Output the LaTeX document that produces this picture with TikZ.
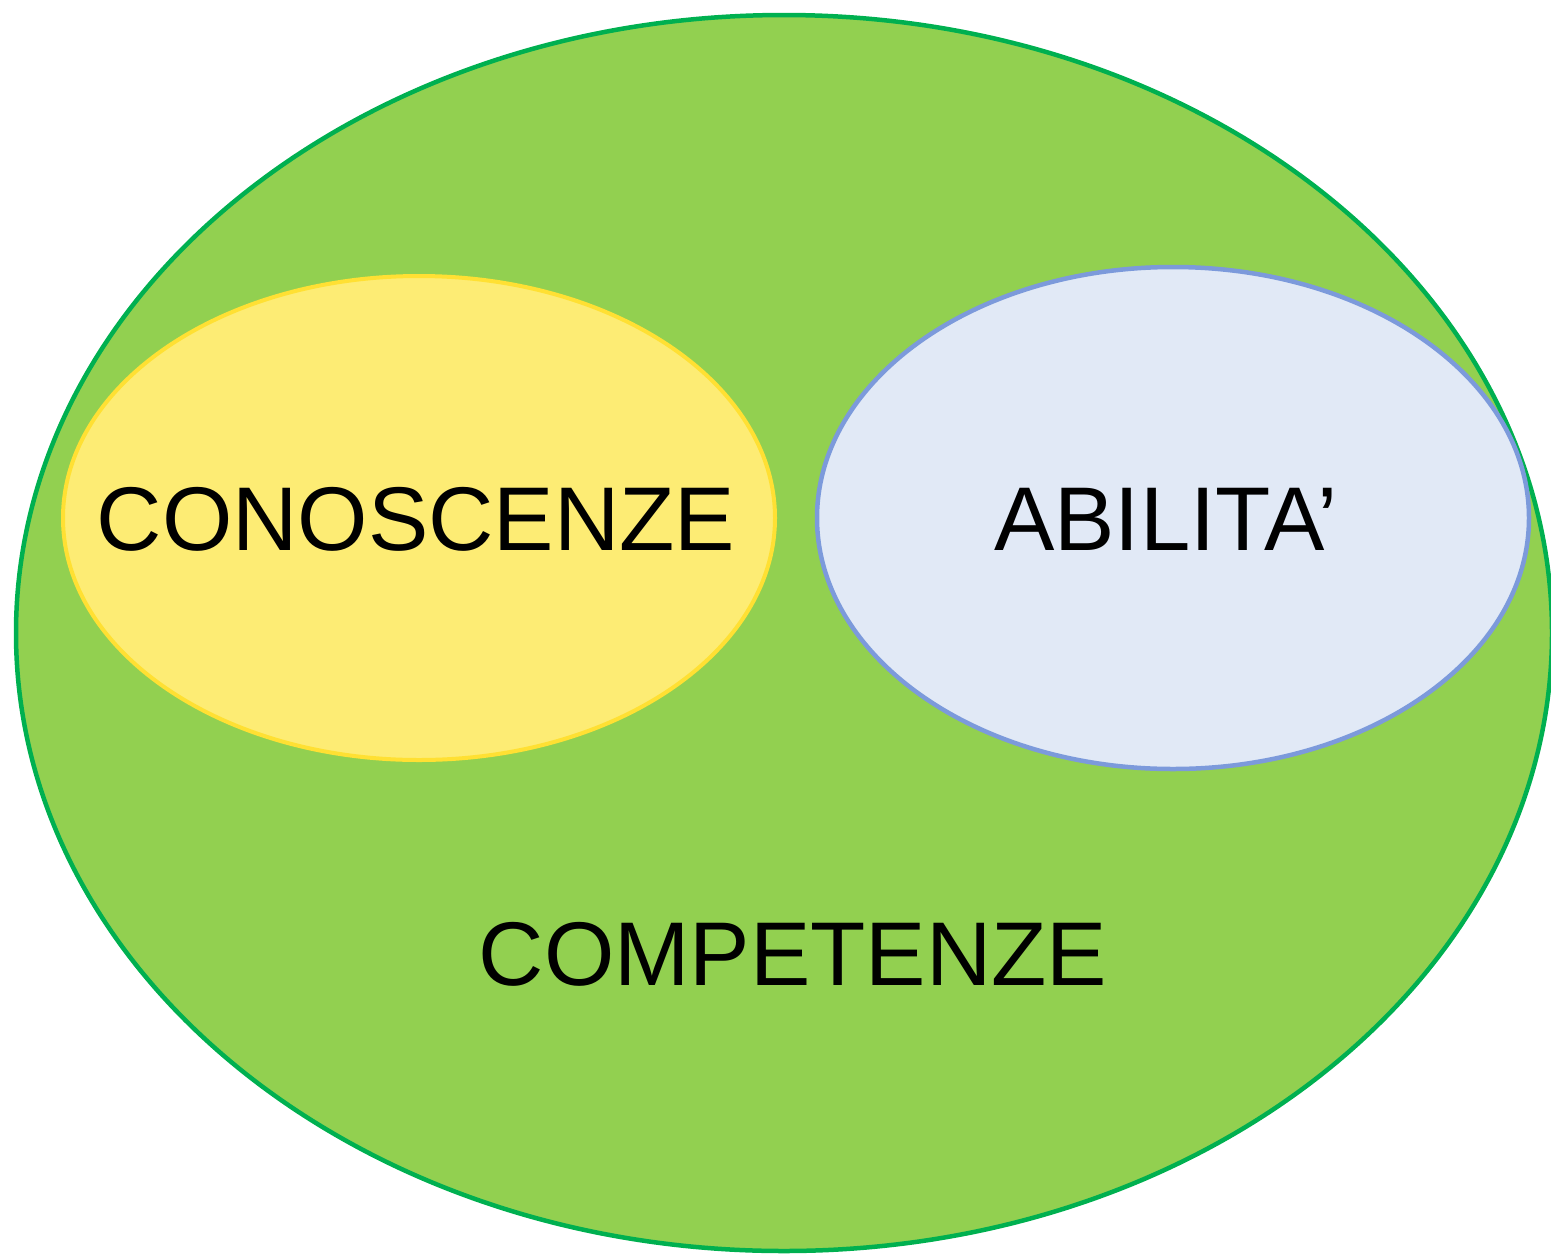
\documentclass[tikz,border=0pt]{standalone}
\usepackage{fontspec}
\setmainfont{Liberation Sans}
\definecolor{outerfill}{HTML}{92D050}
\definecolor{outerline}{HTML}{00B050}
\definecolor{yelfill}{HTML}{FDEC74}
\definecolor{yelline}{HTML}{FFE033}
\definecolor{bluefill}{HTML}{E1E9F6}
\definecolor{blueline}{HTML}{7C9ADB}
\begin{document}
\begin{tikzpicture}[x=1pt,y=-1pt,
  lbl/.style={font=\fontsize{90.5}{100}\selectfont, text=black, inner sep=0pt}]
\useasboundingbox (0,0) rectangle (1551,1254);
\begin{scope}
\clip (0,0) rectangle (1551,1254);
\path[fill=outerfill, draw=outerline, line width=4.5pt] (784,633) ellipse [x radius=768, y radius=618];
\node[lbl] (comp) at (793,954) {COMPETENZE};
\path[fill=yelfill, draw=yelline, line width=4pt] (419,518) ellipse [x radius=356, y radius=242];
\node[lbl] (cono) at (416,519) {CONOSCENZE};
\path[fill=bluefill, draw=blueline, line width=4.5pt] (1173,518) ellipse [x radius=356, y radius=251];
\node[lbl] (abil) at (1166,519) {ABILITA’};
\end{scope}
\end{tikzpicture}
\end{document}
